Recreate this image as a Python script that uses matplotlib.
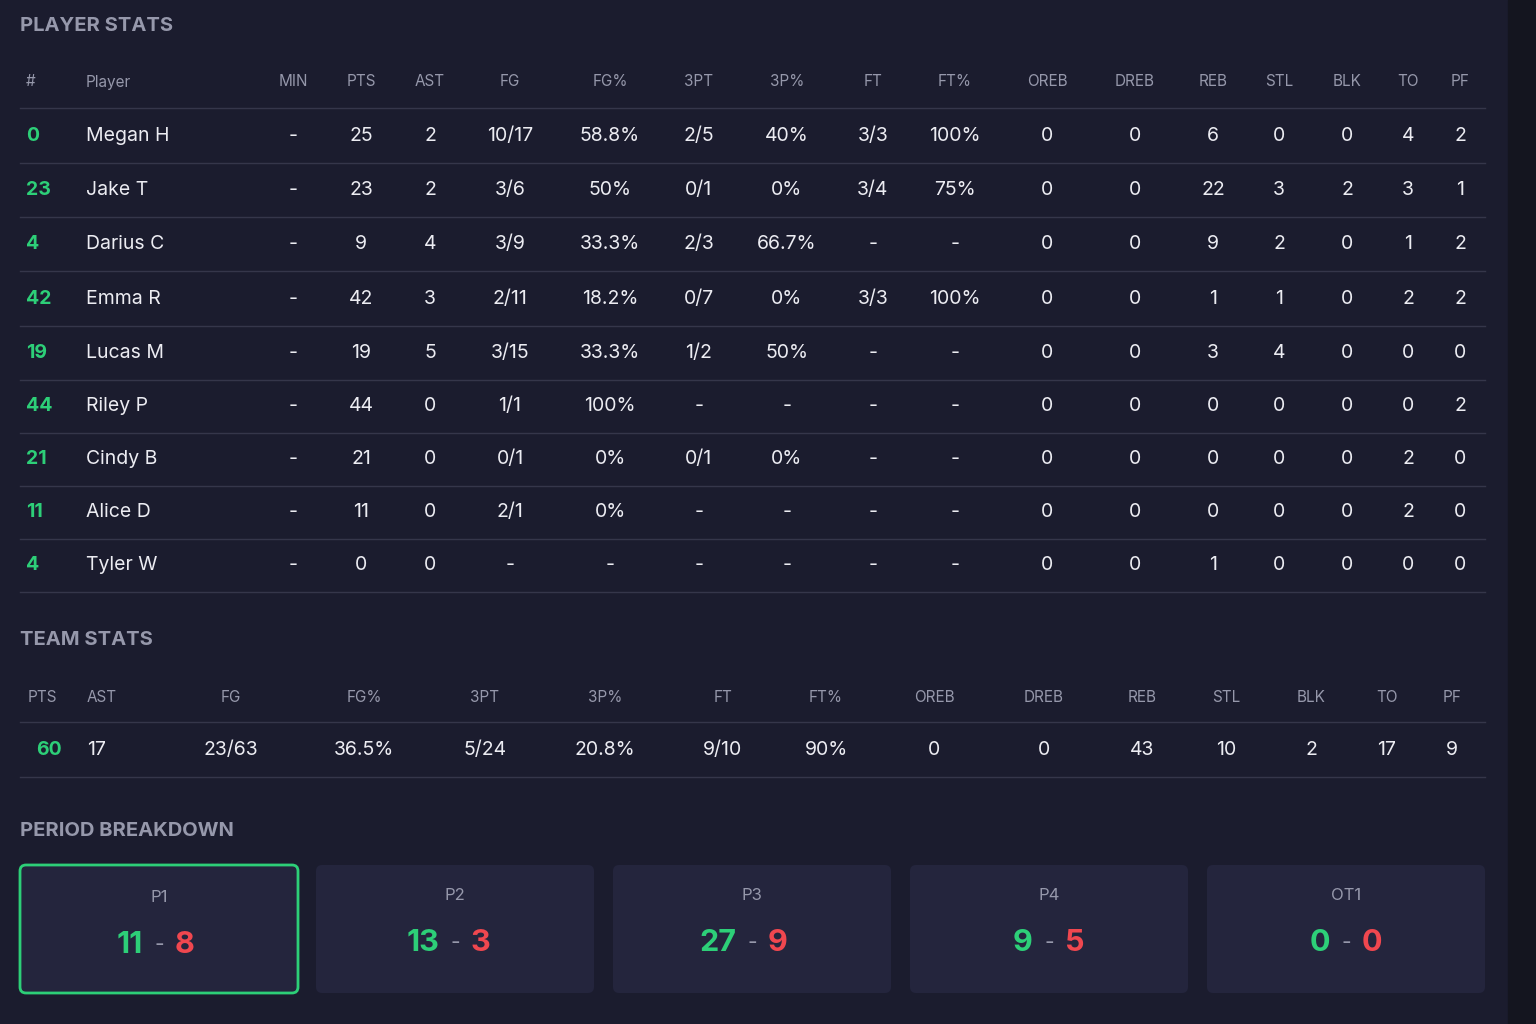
import matplotlib.pyplot as plt
from matplotlib.patches import FancyBboxPatch, Rectangle

BG = "#1b1c2e"
HEAD = "#9698ab"
TXT = "#ececf2"
GREEN = "#2dcf78"
RED = "#f0474f"
LINE = "#35364a"
CARD = "#24253d"

player_cols = ["#", "Player", "MIN", "PTS", "AST", "FG", "FG%", "3PT", "3P%", "FT", "FT%",
               "OREB", "DREB", "REB", "STL", "BLK", "TO", "PF"]
numbers = ["0", "23", "4", "42", "19", "44", "21", "11", "4"]
names = ["Megan H", "Jake T", "Darius C", "Emma R", "Lucas M", "Riley P", "Cindy B", "Alice D", "Tyler W"]
mins = ["-"] * 9
pts = ["25", "23", "9", "42", "19", "44", "21", "11", "0"]
ast = ["2", "2", "4", "3", "5", "0", "0", "0", "0"]
fg = ["10/17", "3/6", "3/9", "2/11", "3/15", "1/1", "0/1", "2/1", "-"]
fg_pct = ["58.8%", "50%", "33.3%", "18.2%", "33.3%", "100%", "0%", "0%", "-"]
tpt = ["2/5", "0/1", "2/3", "0/7", "1/2", "-", "0/1", "-", "-"]
tp_pct = ["40%", "0%", "66.7%", "0%", "50%", "-", "0%", "-", "-"]
ft = ["3/3", "3/4", "-", "3/3", "-", "-", "-", "-", "-"]
ft_pct = ["100%", "75%", "-", "100%", "-", "-", "-", "-", "-"]
oreb = ["0"] * 9
dreb = ["0"] * 9
reb = ["6", "22", "9", "1", "3", "0", "0", "0", "1"]
stl = ["0", "3", "2", "1", "4", "0", "0", "0", "0"]
blk = ["0", "2", "0", "0", "0", "0", "0", "0", "0"]
to = ["4", "3", "1", "2", "0", "0", "2", "2", "0"]
pf = ["2", "1", "2", "2", "0", "2", "0", "0", "0"]

team_cols = ["PTS", "AST", "FG", "FG%", "3PT", "3P%", "FT", "FT%", "OREB", "DREB",
             "REB", "STL", "BLK", "TO", "PF"]
team_vals = ["60", "17", "23/63", "36.5%", "5/24", "20.8%", "9/10", "90%", "0", "0",
             "43", "10", "2", "17", "9"]

periods = ["P1", "P2", "P3", "P4", "OT1"]
home_scores = [11, 13, 27, 9, 0]
away_scores = [8, 3, 9, 5, 0]

fig = plt.figure(figsize=(15.36, 10.24), dpi=100)
fig.patch.set_facecolor(BG)
ax = fig.add_axes([0, 0, 1, 1])
ax.set_xlim(0, 1536)
ax.set_ylim(1024, 0)
ax.axis("off")
ax.add_patch(Rectangle((1508, 0), 28, 1024, color="#14151f", zorder=0))

FONT = "Inter"


def txt(x, y, s, color=TXT, size=14, ha="center", weight="normal"):
    ax.text(x, y, s, color=color, fontsize=size, ha=ha, va="center",
            fontweight=weight, family=FONT)


# player stats
txt(20, 26, "PLAYER STATS", HEAD, 14.5, "left", "bold")
pcol_x = [26, 86, 293, 361, 430, 510, 610, 699, 787, 873, 955, 1047, 1135, 1213, 1279, 1347, 1408, 1460]
for i, c in enumerate(player_cols):
    txt(pcol_x[i], 82, c, HEAD, 11, "left" if i < 2 else "center")
ax.plot([20, 1485], [108, 108], color=LINE, lw=1)
cols = [mins, pts, ast, fg, fg_pct, tpt, tp_pct, ft, ft_pct, oreb, dreb, reb, stl, blk, to, pf]
row_y = [136, 190, 244, 299, 353, 406, 459, 512, 565]
for r, y in enumerate(row_y):
    txt(26, y, numbers[r], GREEN, 14, "left", "bold")
    txt(86, y, names[r], TXT, 14, "left")
    for j, col in enumerate(cols):
        txt(pcol_x[j + 2], y, col[r], TXT, 14)
    ax.plot([20, 1485], [y + 27, y + 27], color=LINE, lw=1)

# team stats
txt(20, 640, "TEAM STATS", HEAD, 14.5, "left", "bold")
tcol_x = [42, 87, 231, 364, 485, 605, 723, 826, 934, 1044, 1142, 1226, 1311, 1387, 1452]
for i, c in enumerate(team_cols):
    txt(tcol_x[i], 697, c, HEAD, 11, "left" if i == 1 else "center")
    txt(tcol_x[i] + (7 if i == 0 else 0), 750, team_vals[i],
        GREEN if i == 0 else TXT, 14, "left" if i == 1 else "center",
        "bold" if i == 0 else "normal")
ax.plot([20, 1485], [722, 722], color=LINE, lw=1)
ax.plot([20, 1485], [777, 777], color=LINE, lw=1)

# period breakdown
txt(20, 831, "PERIOD BREAKDOWN", HEAD, 14.5, "left", "bold")
card_x = [20, 316, 613, 910, 1207]
for k, p in enumerate(periods):
    x0 = card_x[k]
    w = 278
    edge = GREEN if k == 0 else CARD
    ax.add_patch(FancyBboxPatch((x0 + 4, 869), w - 8, 120,
                                boxstyle="round,pad=4,rounding_size=6",
                                fc=CARD, ec=edge, lw=2 if k == 0 else 0))
    cx = x0 + w / 2
    dy = 2 if k == 0 else 0
    txt(cx, 895 + dy, p, HEAD, 12)
    txt(cx - 16, 943 + dy, str(home_scores[k]), GREEN, 22, "right", "bold")
    txt(cx, 943 + dy, "-", HEAD, 15)
    txt(cx + 16, 943 + dy, str(away_scores[k]), RED, 22, "left", "bold")

fig.savefig("out.png", dpi=100, facecolor=BG)
